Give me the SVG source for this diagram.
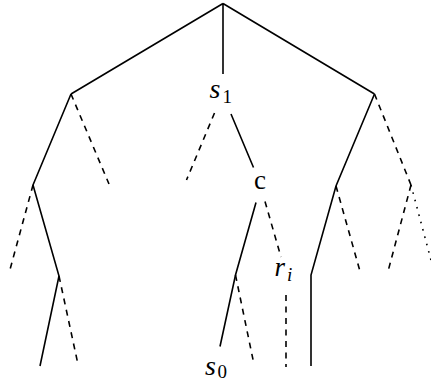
<svg xmlns="http://www.w3.org/2000/svg" width="431" height="380" viewBox="0 0 431 380">
<style>
.e{fill:none;stroke:#000;stroke-width:1.6;stroke-linecap:butt;stroke-linejoin:miter}
.d{stroke-dasharray:6 5.5}
.o{stroke-dasharray:1.6 6}
</style>
<rect width="431" height="380" fill="#fff"/>
<g id="connectors">
<path class="e" d="M223,3.5L71,94M223,3.5L223,74M223,3.5L374.5,94M71,94L33,185L59,276L40,366M231,114L253.5,167.5M256,202.5L235.5,275L220,346.5M374.5,94L336,186L311,275L311,366"/>
<path class="e d" d="M71,94L109,184M214.5,113L186.5,180M374.5,94L411,185M33,185L10,269.5M59,276L77.5,362M265,201.5L281,257M235.5,275L253.5,362M286,295L286,367M336,186L359.5,269.5M411,185L388.5,269.5"/>
<path class="e o" d="M411,185L433.5,269.5"/>
</g>
<g font-family="Liberation Serif, Times New Roman, serif" fill="#000">
<g id="node-s1"><text x="209.5" y="97.5" font-size="28" font-style="italic">s</text><text x="222.5" y="103" font-size="19">1</text></g>
<g id="node-c"><text x="254" y="189" font-size="27">c</text></g>
<g id="node-ri"><text x="274.5" y="275.5" font-size="27" font-style="italic">r</text><text x="287" y="281" font-size="19" font-style="italic">i</text></g>
<g id="node-s0"><text x="205" y="375" font-size="28" font-style="italic">s</text><text x="217.5" y="377.5" font-size="19">0</text></g>
</g>
</svg>
